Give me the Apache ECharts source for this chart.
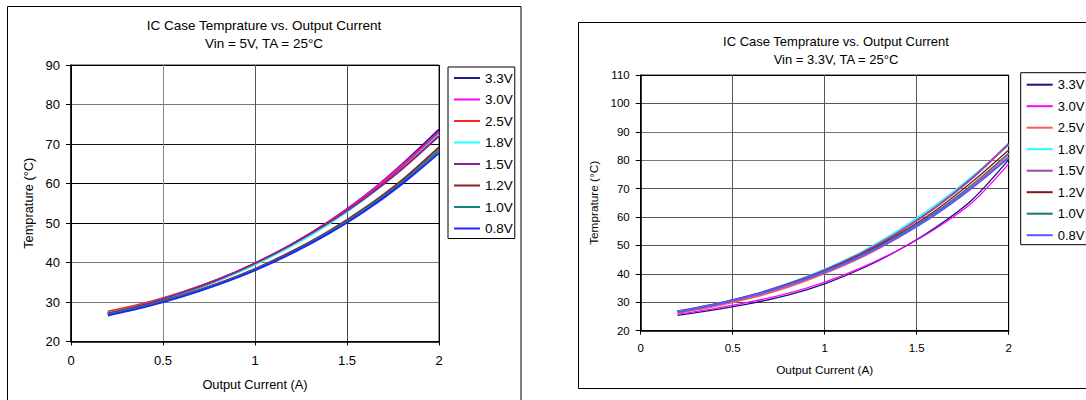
<!DOCTYPE html>
<html>
<head>
<meta charset="utf-8">
<script src="https://cdn.jsdelivr.net/npm/echarts@6/dist/echarts.min.js"></script>
<style>
  html, body { margin: 0; padding: 0; background: #fff; overflow: hidden; }
  .panel { position: absolute; top: 0; width: 543px; height: 400px; }
  #vin5 { left: 0; }
  #vin33 { left: 543px; }
</style>
</head>
<body>
<div id="vin5" class="panel"></div>
<div id="vin33" class="panel"></div>
<script>
// Output current sample points (A)
const currents = [0.2, 0.4, 0.6, 0.8, 1.0, 1.2, 1.4, 1.6, 1.8, 2.0];

// Output voltage settings, one curve each
const outputVoltages = ['3.3V', '3.0V', '2.5V', '1.8V', '1.5V', '1.2V', '1.0V', '0.8V'];

// Axis ranges / tick spacing
const xRange = [0, 2, 0.5];
const yRange5 = [20, 90, 10];
const yRange33 = [20, 110, 10];

// Case temperature (°C), Vin = 5V
const vin5_3v3 = [27.0, 29.2, 32.1, 35.5, 39.6, 44.5, 50.3, 57.0, 64.9, 73.7];
const vin5_3v0 = [27.3, 29.5, 32.3, 35.7, 39.8, 44.6, 50.3, 56.9, 64.6, 73.1];
const vin5_2v5 = [27.6, 29.7, 32.4, 35.7, 39.7, 44.5, 50.2, 56.6, 64.2, 72.7];
const vin5_1v8 = [27.2, 29.4, 32.2, 35.5, 39.5, 44.2, 49.7, 56.2, 63.8, 72.4];
const vin5_1v5 = [27.1, 29.4, 32.3, 35.7, 39.8, 44.6, 50.1, 56.4, 63.7, 72.0];
const vin5_1v2 = [27.0, 29.0, 31.6, 34.7, 38.4, 42.8, 47.9, 53.9, 60.9, 69.2];
const vin5_1v0 = [26.9, 28.9, 31.5, 34.6, 38.2, 42.5, 47.6, 53.5, 60.4, 68.4];
const vin5_0v8 = [26.6, 28.7, 31.3, 34.4, 38.0, 42.3, 47.3, 53.1, 59.9, 67.7];

// Case temperature (°C), Vin = 3.3V
const vin33_3v3 = [25.4, 27.3, 29.6, 32.5, 36.5, 41.8, 48.3, 56.2, 66.0, 80.2];
const vin33_3v0 = [25.8, 27.8, 30.2, 33.1, 37.1, 42.2, 48.4, 55.8, 65.0, 78.7];
const vin33_2v5 = [26.3, 28.6, 31.6, 35.4, 40.2, 45.9, 52.9, 61.0, 70.7, 82.3];
const vin33_1v8 = [26.9, 29.4, 32.6, 36.7, 41.7, 47.8, 55.4, 64.2, 74.3, 85.2];
const vin33_1v5 = [26.8, 29.3, 32.4, 36.4, 41.3, 47.3, 54.6, 63.3, 73.6, 85.8];
const vin33_1v2 = [26.8, 29.3, 32.4, 36.3, 41.1, 46.9, 53.9, 62.2, 72.3, 83.6];
const vin33_1v0 = [26.7, 29.2, 32.3, 36.2, 40.9, 46.6, 53.5, 61.6, 71.4, 82.5];
const vin33_0v8 = [26.6, 29.1, 32.2, 36.0, 40.7, 46.3, 53.0, 60.9, 70.3, 81.0];

const FONT = '"Liberation Sans", Arial, sans-serif';

function pairs(values) {
  return currents.map((c, i) => [c, values[i]]);
}

function buildOption(p) {
  const series = p.data.map((vals, i) => ({
    name: outputVoltages[i],
    type: 'line',
    data: pairs(vals),
    symbol: 'none',
    smooth: 0.3,
    lineStyle: { color: p.colors[i], width: p.widths[i] },
    itemStyle: { color: p.colors[i] },
    z: 3 + i
  }));
  return {
    animation: false,
    backgroundColor: '#fff',
    textStyle: { fontFamily: FONT, color: '#000' },
    grid: {
      left: p.grid[0], top: p.grid[1], width: p.grid[2], height: p.grid[3],
      show: true, borderColor: '#333', borderWidth: 1, backgroundColor: 'transparent'
    },
    xAxis: {
      type: 'value', min: xRange[0], max: xRange[1], interval: xRange[2],
      name: 'Output Current (A)', nameLocation: 'middle', nameGap: p.xNameGap,
      nameTextStyle: { fontSize: p.nameSize, color: '#000', fontFamily: FONT },
      axisLine: { show: true, onZero: false, lineStyle: { color: '#000', width: 1.5 } },
      axisTick: { show: true, length: 4, lineStyle: { color: '#000' } },
      axisLabel: { margin: p.xLabelMargin, fontSize: p.tickSize, color: '#000', fontFamily: FONT },
      splitLine: { show: true, lineStyle: { color: p.vGrid, width: 1 } }
    },
    yAxis: {
      type: 'value', min: p.yRange[0], max: p.yRange[1], interval: p.yRange[2],
      name: 'Temprature (°C)', nameLocation: 'middle', nameGap: p.yNameGap,
      nameTextStyle: { fontSize: p.nameSize, color: '#000', fontFamily: FONT },
      axisLine: { show: true, onZero: false, lineStyle: { color: '#000', width: 1.5 } },
      axisTick: { show: true, length: 5, lineStyle: { color: '#000' } },
      axisLabel: { margin: p.yLabelMargin, fontSize: p.tickSize, color: '#000', fontFamily: FONT },
      splitLine: { show: true, lineStyle: { color: p.hGrid, width: 1 } }
    },
    legend: {
      orient: 'vertical', left: p.legend[0], top: p.legend[1],
      padding: p.legendPad, itemGap: p.legendGap, itemWidth: 26, itemHeight: 14,
      borderColor: '#000', borderWidth: 1, backgroundColor: '#fff',
      selectedMode: false,
      // line-only keys: hide the marker drawn over the key line
      itemStyle: { color: 'rgba(0,0,0,0)', borderWidth: 0, opacity: 0 },
      textStyle: { fontSize: p.legendSize, color: '#000', fontFamily: FONT },
      data: outputVoltages
    },
    graphic: [
      {
        type: 'rect', silent: true, z: -1,
        shape: { x: p.frame[0], y: p.frame[1], width: p.frame[2], height: p.frame[3] },
        style: { fill: 'none', stroke: '#000', lineWidth: 1 }
      },
      {
        type: 'text', silent: true,
        style: { text: 'IC Case Temprature vs. Output Current', x: p.titleX, y: p.titleY[0],
                 align: 'center', verticalAlign: 'middle', fill: '#000',
                 font: p.titleSize + 'px ' + FONT }
      },
      {
        type: 'text', silent: true,
        style: { text: p.subtitle, x: p.titleX, y: p.titleY[1],
                 align: 'center', verticalAlign: 'middle', fill: '#000',
                 font: p.titleSize + 'px ' + FONT }
      }
    ],
    series: series
  };
}

// Left panel: Vin = 5V
const chart5 = echarts.init(document.getElementById('vin5'), null, { renderer: 'svg' });
chart5.setOption(buildOption({
  data: [vin5_3v3, vin5_3v0, vin5_2v5, vin5_1v8, vin5_1v5, vin5_1v2, vin5_1v0, vin5_0v8],
  colors: ['#1c1c86', '#ff00ff', '#ff2222', '#22ffff', '#8a228a', '#8a2222', '#0f8585', '#2222ff'],
  widths: [2, 2, 2, 2, 2, 2, 2, 2],
  yRange: yRange5,
  grid: [71, 65, 368, 276.5],
  hGrid: ['#000', '#777', '#777', '#000', '#000', '#111', '#777', '#000'],
  vGrid: ['#000', '#888', '#555', '#444', '#000'],
  xNameGap: 36, yNameGap: 34, xLabelMargin: 12, yLabelMargin: 11,
  tickSize: 13, nameSize: 12.8,
  legend: [448, 67], legendPad: [4, 2, 3, 5], legendGap: 7.5, legendSize: 13.5,
  frame: [7.5, 6.5, 513.5, 420],
  titleX: 264, titleY: [25, 43.5], titleSize: 13.5,
  subtitle: 'Vin = 5V, TA = 25°C'
}));

// Right panel: Vin = 3.3V
const chart33 = echarts.init(document.getElementById('vin33'), null, { renderer: 'svg' });
chart33.setOption(buildOption({
  data: [vin33_3v3, vin33_3v0, vin33_2v5, vin33_1v8, vin33_1v5, vin33_1v2, vin33_1v0, vin33_0v8],
  colors: ['#14147a', '#ff00ff', '#ff5a5a', '#22ffff', '#9a48aa', '#8a1414', '#127a7a', '#5a5aff'],
  widths: [1.3, 1.3, 2.2, 1.3, 2.2, 1.3, 1.3, 2.2],
  yRange: yRange33,
  grid: [97.7, 75, 368, 255.7],
  hGrid: ['#000', '#555', '#555', '#555', '#555', '#555', '#777', '#777', '#555', '#000'],
  vGrid: ['#000', '#555', '#555', '#555', '#000'],
  xNameGap: 33, yNameGap: 38, xLabelMargin: 11, yLabelMargin: 11,
  tickSize: 11.5, nameSize: 11.8,
  legend: [477.7, 72.7], legendPad: [5.5, 2, 3, 5], legendGap: 8.5, legendSize: 13,
  frame: [35.5, 22.5, 600, 366],
  titleX: 293, titleY: [41, 59], titleSize: 13,
  subtitle: 'Vin = 3.3V, TA = 25°C'
}));
</script>
</body>
</html>
